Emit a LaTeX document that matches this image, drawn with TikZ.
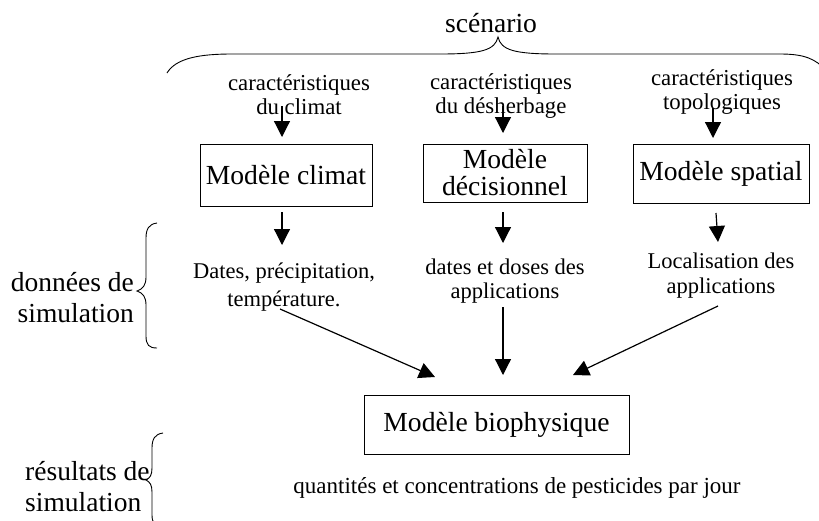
\documentclass[tikz,border=0pt]{standalone}
\usepackage{fontspec}
\setmainfont{Liberation Serif}
\usetikzlibrary{arrows.meta}
\begin{document}
\begin{tikzpicture}[x=1pt,y=-1pt,
  box/.style={draw, line width=1pt, inner sep=0pt, align=center, font=\fontsize{27.6}{27}\selectfont},
  lbl/.style={inner sep=0pt, align=center, font=\fontsize{22.8}{24}\selectfont},
  dat/.style={inner sep=0pt, align=center, font=\fontsize{22.5}{26}\selectfont},
  side/.style={inner sep=0pt, font=\fontsize{27.5}{31}\selectfont},
  arr/.style={line width=1.2pt, -{Triangle[length=16pt 0 0,width=16pt 0 0]}},
  brc/.style={line width=0.9pt}]
\useasboundingbox (0,0) rectangle (819,520);

% title and top brace
\node[inner sep=0pt, font=\fontsize{27.6}{30}\selectfont, anchor=base] (scen) at (491,32) {scénario};
\draw[brc] (167,73) .. controls (176,58) and (200,54) .. (232,54) -- (440,54)
  .. controls (482,54) and (495,50) .. (498,37)
  .. controls (501,50) and (514,54) .. (556,54) -- (780,54)
  .. controls (805,54) and (815,59) .. (826,70);

% input labels
\node[lbl] (lclim) at (299,95) {caractéristiques\\du climat};
\node[lbl] (ldes) at (501,96) {caractéristiques\\du désherbage};
\node[lbl] (ltop) at (722,92) {caractéristiques\\topologiques};

% models
\node[box, minimum width=172pt, minimum height=62pt] (mclim) at (286,175) {Modèle climat};
\node[box, minimum width=164pt, minimum height=58pt] (mdec) at (505,173) {Modèle\\décisionnel};
\node[box, minimum width=176pt, minimum height=59pt] (mspa) at (721,173.5) {Modèle spatial};
\node[box, minimum width=265pt, minimum height=59pt] (mbio) at (496.5,424.5) {Modèle biophysique};

% output data labels
\node[dat, font=\fontsize{22.5}{28}\selectfont] (dclim) at (284,287) {Dates, précipitation,\\température.};
\node[dat, font=\fontsize{22.5}{24}\selectfont] (ddec) at (505,281) {dates et doses des\\applications};
\node[dat, font=\fontsize{22.5}{25}\selectfont] (dspa) at (721,276) {Localisation des\\applications};

\node[inner sep=0pt, font=\fontsize{23}{26}\selectfont, anchor=base] (res) at (517,493) {quantités et concentrations de pesticides par jour};

% side labels
\node[side, align=right, anchor=east] (sdon) at (134,298) {données de\\simulation};
\node[side, align=left, anchor=west] (sres) at (25,487) {résultats de\\simulation};

% side braces
\draw[brc] (157,223) .. controls (149,224) and (146,229) .. (146,238) -- (146,277)
  .. controls (146,285) and (143,289) .. (137,291)
  .. controls (143,293) and (146,297) .. (146,305) -- (146,336)
  .. controls (146,345) and (149,348) .. (157,348);
\draw[brc] (163,433) .. controls (155,434) and (152,439) .. (152,448) -- (152,468)
  .. controls (152,475) and (150,478) .. (146,480)
  .. controls (150,482) and (152,485) .. (152,492) -- (152,515)
  .. controls (152,523) and (155,526) .. (163,527);

% arrows into models
\coordinate (a1s) at (282,106); \coordinate (a1e) at (282,137);
\coordinate (a2s) at (503,106); \coordinate (a2e) at (503,133);
\coordinate (a3s) at (713,108); \coordinate (a3e) at (713,138);
\draw[arr] (a1s) -- (a1e);
\draw[arr] (a2s) -- (a2e);
\draw[arr] (a3s) -- (a3e);

% arrows out of models
\coordinate (b1s) at (282,212); \coordinate (b1e) at (282,245);
\coordinate (b2s) at (503,212); \coordinate (b2e) at (503,243);
\coordinate (b3s) at (716,213); \coordinate (b3e) at (718,242);
\draw[arr] (b1s) -- (b1e);
\draw[arr] (b2s) -- (b2e);
\draw[arr] (b3s) -- (b3e);

% converging arrows
\coordinate (c1s) at (280,309); \coordinate (c1e) at (435,377);
\coordinate (c2s) at (503,307); \coordinate (c2e) at (503,375);
\coordinate (c3s) at (718,306); \coordinate (c3e) at (573,375);
\draw[arr] (c1s) -- (c1e);
\draw[arr] (c2s) -- (c2e);
\draw[arr] (c3s) -- (c3e);
\end{tikzpicture}
\end{document}
